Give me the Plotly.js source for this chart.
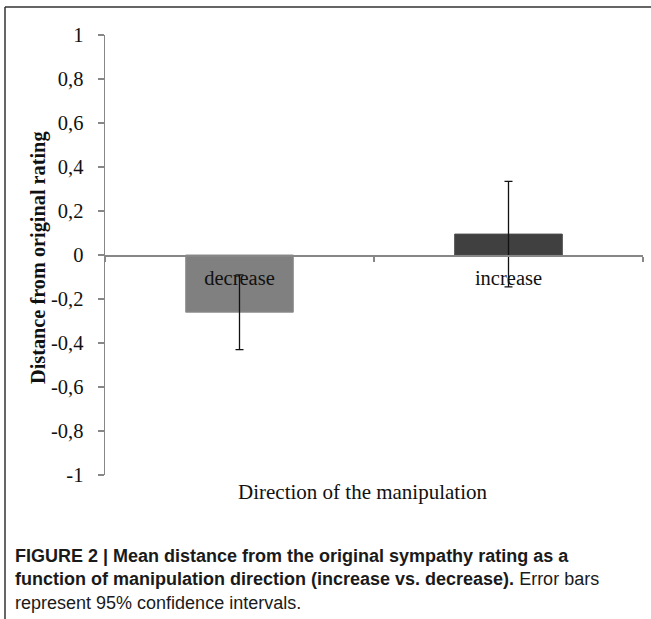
<!DOCTYPE html>
<html>
<head>
<meta charset="utf-8">
<script src="https://cdn.plot.ly/plotly-3.0.1.min.js"></script>
<style>
  html, body { margin: 0; padding: 0; background: #fff; }
  #chart { width: 651px; height: 619px; }
</style>
</head>
<body>
<div id="chart"></div>
<script>
// ---- data ----
var categories = ['decrease', 'increase'];
var meanDistance = [-0.26, 0.095];
var ci95 = [0.17, 0.24];
var barColors = ['#808080', '#404040'];
var yTickVals = [1, 0.8, 0.6, 0.4, 0.2, 0, -0.2, -0.4, -0.6, -0.8, -1];
var yTickText = ['1', '0,8', '0,6', '0,4', '0,2', '0', '-0,2', '-0,4', '-0,6', '-0,8', '-1'];
var yTitle = 'Distance from original rating';
var xTitle = 'Direction of the manipulation';
var captionText = '<b>FIGURE 2 | Mean distance from the original sympathy rating as a<br>' +
  'function of manipulation direction (increase vs. decrease).</b> Error bars<br>' +
  'represent 95% confidence intervals.';

// ---- layout geometry ----
var W = 651, H = 619;
var mL = 105, mR = 8, mT = 35, mB = 144;
var pw = W - mL - mR, ph = H - mT - mB;
function px(x) { return (x - mL) / pw; }
function py(y) { return (H - mB - y) / ph; }

var serif = 'Liberation Serif, Times New Roman, serif';
var axisGray = '#878787';

var trace = {
  type: 'bar',
  x: categories,
  y: meanDistance,
  width: 0.4,
  marker: { color: barColors, line: { color: ['#8e8e8e', '#4a4a4a'], width: 1 } },
  error_y: { type: 'data', array: ci95, visible: true, color: '#111', thickness: 1.3, width: 4 },
  hoverinfo: 'none'
};

var layout = {
  width: W, height: H,
  margin: { l: mL, r: mR, t: mT, b: mB, pad: 0 },
  paper_bgcolor: '#fff', plot_bgcolor: '#fff',
  showlegend: false,
  font: { family: serif, size: 20.5, color: '#000' },
  xaxis: {
    type: 'category',
    range: [-0.5, 1.5],
    anchor: 'free', position: 0.5,
    showline: true, linecolor: axisGray, linewidth: 1.5,
    ticks: 'outside', tickson: 'boundaries', ticklen: 5, tickcolor: axisGray, tickwidth: 1.5,
    showgrid: false, zeroline: false,
    tickfont: { family: serif, size: 20.5, color: '#111' },
    ticklabelstandoff: 4
  },
  yaxis: {
    range: [-1, 1],
    tickvals: yTickVals, ticktext: yTickText,
    showline: true, linecolor: axisGray, linewidth: 1.5,
    ticks: 'outside', ticklen: 6, tickcolor: axisGray, tickwidth: 1.5,
    showgrid: false, zeroline: false,
    tickfont: { family: serif, size: 20.5, color: '#111' },
    ticklabelstandoff: 10
  },
  annotations: [
    { text: '<b>' + yTitle + '</b>', xref: 'paper', yref: 'paper', x: px(38), y: py(258),
      xanchor: 'center', yanchor: 'middle', textangle: -90, showarrow: false,
      font: { family: serif, size: 20.3, color: '#111' } },
    { text: xTitle, xref: 'paper', yref: 'paper', x: px(363), y: py(492),
      xanchor: 'center', yanchor: 'middle', showarrow: false,
      font: { family: serif, size: 21, color: '#111' } },
    { text: captionText, xref: 'paper', yref: 'paper', x: px(13), y: py(544),
      xanchor: 'left', yanchor: 'top', align: 'left', showarrow: false,
      font: { family: 'Liberation Sans, Arial, sans-serif', size: 18, color: '#1a1a1a' } }
  ],
  shapes: [
    { type: 'line', xref: 'paper', yref: 'paper', x0: px(5), x1: px(5), y0: py(7), y1: py(H + 2),
      line: { color: '#333', width: 1.5 } },
    { type: 'line', xref: 'paper', yref: 'paper', x0: px(5), x1: px(W + 2), y0: py(7), y1: py(7),
      line: { color: '#333', width: 1.5 } }
  ]
};

Plotly.newPlot('chart', [trace], layout, { staticPlot: true, displayModeBar: false });
</script>
</body>
</html>
